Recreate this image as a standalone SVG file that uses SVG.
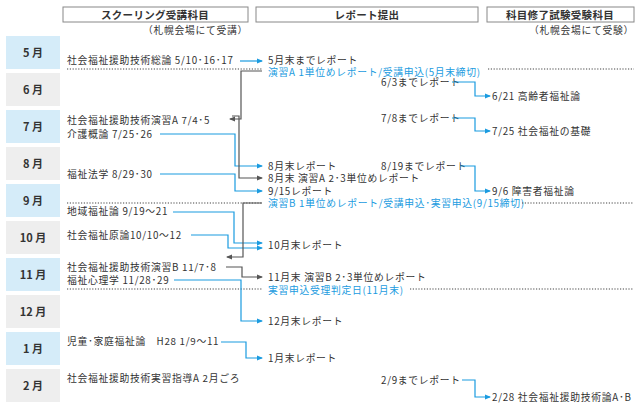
<svg xmlns="http://www.w3.org/2000/svg" width="640" height="409" viewBox="0 0 640 409">
<defs>
<marker id="ab" markerWidth="6" markerHeight="6" refX="5" refY="3" orient="auto" markerUnits="userSpaceOnUse"><path d="M0,0.5 L6,3 L0,5.5 Z" fill="#1a9be0"/></marker>
<marker id="ag" markerWidth="6" markerHeight="6" refX="5" refY="3" orient="auto" markerUnits="userSpaceOnUse"><path d="M0,0.5 L6,3 L0,5.5 Z" fill="#555"/></marker>
</defs>
<style>
text{font-family:"Noto Sans CJK JP","Noto Sans",sans-serif;font-size:9.8px;letter-spacing:0.7px;fill:#333}
.h{font-weight:bold;font-size:10.5px;text-anchor:middle;letter-spacing:0.3px}
.m{font-weight:bold;font-size:11px;text-anchor:middle;letter-spacing:0}
.b{fill:#1a9be0}
.hb{fill:#fff;stroke:#888;stroke-width:1}
.c1{fill:#d5ecf9}.c2{fill:#eeeeee}
.dot{stroke:#444;stroke-width:1.2;stroke-dasharray:1.2 1.6;fill:none}
.bl{stroke:#1a9be0;stroke-width:1.2;fill:none;marker-end:url(#ab)}
.gl{stroke:#555;stroke-width:1.2;fill:none;marker-end:url(#ag)}
</style>
<g id="headers">
<rect class="hb" x="63" y="7" width="185" height="15"/><text class="h" x="155" y="18.5">スクーリング受講科目</text>
<rect class="hb" x="256" y="7" width="222" height="15"/><text class="h" x="367" y="18.5">レポート提出</text>
<rect class="hb" x="487" y="7" width="147" height="15"/><text class="h" x="560" y="18.5">科目修了試験受験科目</text>
<text x="248" y="34" text-anchor="end">（札幌会場にて受講）</text>
<text x="634" y="34" text-anchor="end">（札幌会場にて受験）</text>
</g>
<g id="months">
<rect class="c1" x="6" y="36" width="54" height="33"/><text class="m" x="33" y="57">5 月</text>
<rect class="c2" x="6" y="73" width="54" height="33"/><text class="m" x="33" y="94">6 月</text>
<rect class="c1" x="6" y="110" width="54" height="33"/><text class="m" x="33" y="131">7 月</text>
<rect class="c2" x="6" y="147" width="54" height="33"/><text class="m" x="33" y="168">8 月</text>
<rect class="c1" x="6" y="184" width="54" height="33"/><text class="m" x="33" y="205">9 月</text>
<rect class="c2" x="6" y="221" width="54" height="33"/><text class="m" x="33" y="242">10 月</text>
<rect class="c1" x="6" y="258" width="54" height="33"/><text class="m" x="33" y="279">11 月</text>
<rect class="c2" x="6" y="295" width="54" height="33"/><text class="m" x="33" y="316">12 月</text>
<rect class="c1" x="6" y="332" width="54" height="33"/><text class="m" x="33" y="353">1 月</text>
<rect class="c2" x="6" y="369" width="54" height="33"/><text class="m" x="33" y="390">2 月</text>
</g>
<g id="schooling">
<text x="67" y="64">社会福祉援助技術総論 5/10･16･17</text>
<text x="67" y="124">社会福祉援助技術演習A 7/4･5</text>
<text x="67" y="138">介護概論 7/25･26</text>
<text x="67" y="178">福祉法学 8/29･30</text>
<text x="67" y="215">地域福祉論 9/19〜21</text>
<text x="67" y="239">社会福祉原論10/10〜12</text>
<text x="67" y="271">社会福祉援助技術演習B 11/7･8</text>
<text x="67" y="284">福祉心理学 11/28･29</text>
<text x="67" y="345">児童･家庭福祉論　H28 1/9〜11</text>
<text x="67" y="382">社会福祉援助技術実習指導A 2月ごろ</text>
</g>
<g id="reports">
<text x="268" y="64">5月末までレポート</text>
<text class="b" x="268" y="75.5">演習A 1単位めレポート/受講申込(5月末締切)</text>
<text x="381" y="86">6/3までレポート</text>
<text x="381" y="122">7/8までレポート</text>
<text x="268" y="170">8月末レポート</text>
<text x="381" y="170">8/19までレポート</text>
<text x="268" y="182">8月末 演習A 2･3単位めレポート</text>
<text x="268" y="194.5">9/15レポート</text>
<text class="b" x="268" y="207">演習B 1単位めレポート/受講申込･実習申込(9/15締切)</text>
<text x="268" y="249">10月末レポート</text>
<text x="268" y="281">11月末 演習B 2･3単位めレポート</text>
<text class="b" x="268" y="293.5">実習申込受理判定日(11月末)</text>
<text x="268" y="325">12月末レポート</text>
<text x="268" y="362">1月末レポート</text>
<text x="381" y="384">2/9までレポート</text>
</g>
<g id="exams">
<text x="492" y="100">6/21 高齢者福祉論</text>
<text x="492" y="135">7/25 社会福祉の基礎</text>
<text x="492" y="195">9/6 障害者福祉論</text>
<text x="492" y="401">2/28 社会福祉援助技術論A･B</text>
</g>
<g id="connectors">
<path class="dot" d="M67,69 H262 M488,69 H634 M67,203 H262 M522,203 H634 M67,289 H262 M410,289 H634"/>
<path class="bl" d="M240,61 H262"/>
<path class="bl" d="M160,134 H235 V166 H262"/>
<path class="bl" d="M160,174 H235 V191 H262"/>
<path class="bl" d="M173,212 H234 V243 H262"/>
<path class="bl" d="M191,235 H228 V248 H262"/>
<path class="bl" d="M174,280 H241 V321 H262"/>
<path class="bl" d="M221,342 H246 V358 H262"/>
<path class="bl" d="M452,82 H475 V96 H490"/>
<path class="bl" d="M452,118 H475 V131 H490"/>
<path class="bl" d="M460,166 H475 V191 H490"/>
<path class="bl" d="M462,380 H475 V397 H490"/>
<path class="gl" d="M262,71 H241 V119 H230"/>
<path class="gl" d="M232,116 H239 V178 H262"/>
<path class="gl" d="M262,203 H243 V257 H227"/>
<path class="gl" d="M226,267 H242 V277 H262"/>
</g>
</svg>
